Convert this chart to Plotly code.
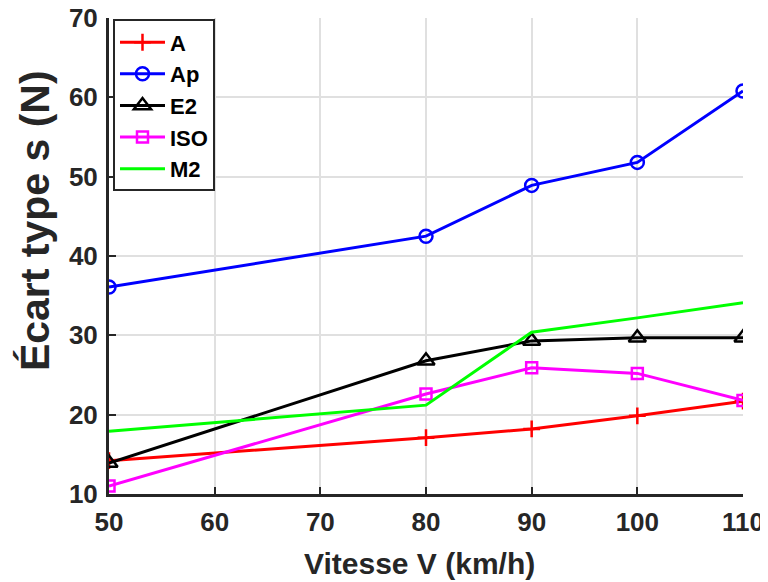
import plotly.graph_objects as go

speeds = [50, 80, 90, 100, 110]
A = [14.2, 17.1, 18.2, 19.85, 21.7]
Ap = [36.1, 42.5, 48.9, 51.8, 60.8]
E2 = [13.9, 26.8, 29.3, 29.7, 29.7]
ISO = [11.0, 22.6, 25.9, 25.2, 21.8]
M2 = [17.9, 21.2, 30.4, 32.2, 34.1]

x_ticks = [50, 60, 70, 80, 90, 100, 110]
y_ticks = [10, 20, 30, 40, 50, 60, 70]

x_title = "Vitesse V (km/h)"
y_title = "Écart type s (N)"

series = [
    ("A", A, "#ff0000", "cross-thin-open", 12),
    ("Ap", Ap, "#0000ff", "circle-open", 13),
    ("E2", E2, "#000000", "triangle-up-open", 15),
    ("ISO", ISO, "#ff00ff", "square-open", 11),
    ("M2", M2, "#00ff00", None, 0),
]

fig = go.Figure()
for name, vals, col, sym, sz in series:
    if sym:
        fig.add_trace(go.Scatter(
            x=speeds, y=vals, name=name, mode="lines+markers",
            line=dict(color=col, width=3),
            marker=dict(symbol=sym, size=sz, color=col, line=dict(color=col, width=2.5)),
        ))
    else:
        fig.add_trace(go.Scatter(
            x=speeds, y=vals, name=name, mode="lines",
            line=dict(color=col, width=3),
        ))

font_family = "Liberation Sans, Arial, sans-serif"
fig.update_layout(
    width=768, height=582,
    margin=dict(l=101, r=33, t=10, b=96),
    paper_bgcolor="white", plot_bgcolor="white",
    font=dict(family=font_family, color="#262626", size=24, weight="bold"),
    showlegend=True,
    legend=dict(
        x=0.0063, y=0.997, xanchor="left", yanchor="top",
        bordercolor="#262626", borderwidth=2, bgcolor="white",
        font=dict(size=22, color="#000000", family=font_family, weight="bold"),
        itemwidth=45, tracegroupgap=0,
    ),
    xaxis=dict(
        range=[50, 110], tickvals=x_ticks, showgrid=True, gridcolor="#e0e0e0", gridwidth=2,
        showline=True, linecolor="#262626", linewidth=3, ticks="inside", ticklen=7,
        tickwidth=2, tickcolor="#262626", zeroline=False, automargin=False,
        ticklabeloverflow="allow", ticklabelstandoff=3,
        tickfont=dict(size=26, weight="bold"),
    ),
    yaxis=dict(
        range=[10, 70], tickvals=y_ticks, showgrid=True, gridcolor="#e0e0e0", gridwidth=2,
        showline=True, linecolor="#262626", linewidth=3, ticks="inside", ticklen=7,
        tickwidth=2, tickcolor="#262626", zeroline=False, automargin=False,
        ticklabeloverflow="allow", ticklabelstandoff=3,
        tickfont=dict(size=26, weight="bold"),
    ),
    annotations=[
        dict(text=x_title, xref="paper", yref="paper", x=0.49, y=-0.147,
             xanchor="center", yanchor="middle", showarrow=False,
             font=dict(size=30, weight="bold", color="#262626")),
        dict(text=y_title, xref="paper", yref="paper", x=-0.117, y=0.575,
             xanchor="center", yanchor="middle", showarrow=False, textangle=-90,
             font=dict(size=41, weight="bold", color="#262626")),
    ],
)

fig.write_html("out.html")
